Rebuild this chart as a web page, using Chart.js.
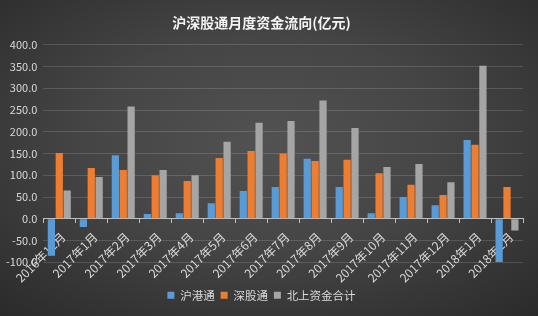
<!DOCTYPE html>
<html><head><meta charset="utf-8">
<script src="https://cdn.jsdelivr.net/npm/chart.js@4/dist/chart.umd.min.js"></script>
<style>
html,body{margin:0;padding:0;}
body{width:538px;height:316px;background:radial-gradient(ellipse 75% 75% at 50% 45%, #525252 0%, #454545 45%, #2a2a2a 100%);}
#wrap{width:538px;height:316px;position:relative;}
</style></head>
<body><div id="wrap"><canvas id="c" width="538" height="316"></canvas></div>
<script>
const categories = ["2016年12月","2017年1月","2017年2月","2017年3月","2017年4月","2017年5月","2017年6月","2017年7月","2017年8月","2017年9月","2017年10月","2017年11月","2017年12月","2018年1月","2018年2月"];
const hugutong = [-85, -19, 146, 11, 13, 36, 64, 73, 138, 73, 13, 50, 31, 181, -100];
const shengutong = [151, 117, 112, 100, 87, 140, 156, 150, 133, 136, 105, 78, 55, 170, 73];
const northTotal = [65, 96, 258, 112, 100, 177, 221, 225, 272, 209, 119, 126, 84, 352, -27];
const seriesNames = ["沪港通", "深股通", "北上资金合计"];
const titleText = "沪深股通月度资金流向(亿元)";

const FONT = "'Noto Sans CJK SC', 'Microsoft YaHei', sans-serif";
new Chart(document.getElementById('c'), {
  type: 'bar',
  data: {
    labels: categories,
    datasets: [
      {label: seriesNames[0], data: hugutong, backgroundColor: '#5b9bd5'},
      {label: seriesNames[1], data: shengutong, backgroundColor: '#ed7d31'},
      {label: seriesNames[2], data: northTotal, backgroundColor: '#a5a5a5'}
    ]
  },
  options: {
    responsive: false,
    animation: false,
    devicePixelRatio: 1,
    categoryPercentage: 0.74,
    barPercentage: 0.92,
    layout: {padding: {left: 0, right: 15, top: 4, bottom: 5}},
    plugins: {
      title: {display: true, text: titleText, color: '#f2f2f2', font: {family: FONT, size: 14, weight: 'bold'}, padding: {top: 10, bottom: 14}},
      legend: {
        position: 'bottom',
        title: {display: true, text: ' ', font: {size: 1}, padding: {top: 0, bottom: 20}},
        labels: {color: '#d9d9d9', font: {family: FONT, size: 11.5}, boxWidth: 7, boxHeight: 7, padding: 6}
      },
      tooltip: {enabled: false}
    },
    scales: {
      x: {
        position: {y: 0},
        grid: {display: true, drawOnChartArea: false, drawTicks: true, tickLength: 4, color: '#bfbfbf', offset: true},
        border: {display: true, color: '#bfbfbf', width: 1},
        ticks: {color: '#d9d9d9', font: {family: FONT, size: 12}, minRotation: 45, maxRotation: 45, autoSkip: false, padding: 7, labelOffset: 4}
      },
      y: {
        min: -100, max: 400,
        grid: {color: 'rgba(255,255,255,0.14)', drawTicks: false},
        border: {display: false},
        ticks: {stepSize: 50, color: '#d9d9d9', font: {family: FONT, size: 11}, padding: 6, callback: v => Number(v).toFixed(1)}
      }
    }
  }
});
</script></body></html>
